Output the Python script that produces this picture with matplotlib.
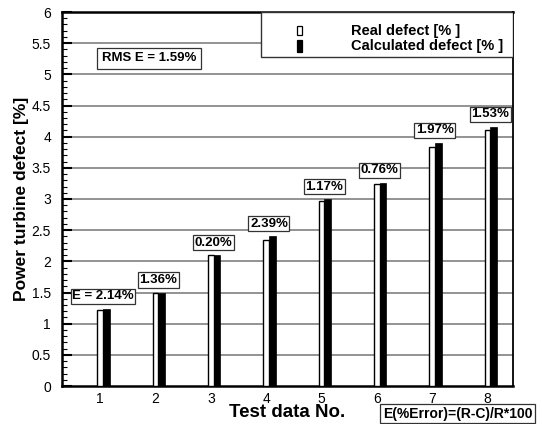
import matplotlib
matplotlib.use("Agg")
import matplotlib.pyplot as plt
from matplotlib.patches import Rectangle
from matplotlib.ticker import MultipleLocator
import numpy as np

plt.rcParams['font.family'] = ['Liberation Sans', 'DejaVu Sans']

test_no = [1, 2, 3, 4, 5, 6, 7, 8]
real_defect = [1.22, 1.49, 2.10, 2.35, 2.97, 3.24, 3.83, 4.10]
calc_defect = [1.24, 1.50, 2.10, 2.40, 3.00, 3.26, 3.90, 4.16]
error_labels = ["E = 2.14%", "1.36%", "0.20%", "2.39%", "1.17%", "0.76%", "1.97%", "1.53%"]
y_ticks = [0, 0.5, 1, 1.5, 2, 2.5, 3, 3.5, 4, 4.5, 5, 5.5, 6]
y_tick_labels = ["0", "0.5", "1", "1.5", "2", "2.5", "3", "3.5", "4", "4.5", "5", "5.5", "6"]

fig = plt.figure(figsize=(5.42, 4.24), dpi=100)
ax = fig.add_axes([62/542, 38/424, 451/542, 374/424])

x = np.array(test_no, dtype=float)
ax.bar(x, real_defect, width=0.1, color='white', edgecolor='black', linewidth=1.0, zorder=3)
ax.bar(x + 0.11, calc_defect, width=0.12, color='black', edgecolor='black', linewidth=0.5, zorder=3)

ax.set_xlim(0.31, 8.46)
ax.set_ylim(0, 6)
ax.set_xticks(test_no)
ax.set_xticklabels([str(t) for t in test_no])
ax.set_yticks(y_ticks)
ax.set_yticklabels(y_tick_labels)
ax.yaxis.set_minor_locator(MultipleLocator(0.1))
ax.tick_params(axis='x', length=0, labelsize=10, pad=4)
ax.tick_params(axis='y', which='major', direction='in', length=7, width=1.5, labelsize=10, pad=8)
ax.tick_params(axis='y', which='minor', direction='in', length=3.5, width=0.8)
for yv in y_ticks[1:-1]:
    ax.axhline(yv, color='#8a8a8a', linewidth=1.3, zorder=1)

for s in ['left', 'top', 'bottom']:
    ax.spines[s].set_linewidth(1.8)
ax.spines['right'].set_linewidth(1.3)

ax.set_xlabel("Test data No.", fontsize=13.5, fontweight='bold', labelpad=-1)
ax.set_ylabel("Power turbine defect [%]", fontsize=12.5, fontweight='bold', labelpad=2)

for xi, ci, lab in zip(x, calc_defect, error_labels):
    ax.annotate(lab, (xi + 0.05, ci), xytext=(0, 9), textcoords='offset points',
                ha='center', va='center', fontsize=9.5, fontweight='bold', zorder=5,
                bbox=dict(boxstyle='square,pad=0.12', facecolor='white', edgecolor='#333333', linewidth=0.9))

# RMS box
ax.text(0.193, 0.876, "RMS E = 1.59%", transform=ax.transAxes, ha='center', va='center',
        fontsize=9.5, fontweight='bold', zorder=5,
        bbox=dict(boxstyle='square,pad=0.35', facecolor='white', edgecolor='#333333', linewidth=0.9))

# Legend box
ax.add_patch(Rectangle((0.4406, 0.8789), 1 - 0.4406, 1 - 0.8789, transform=ax.transAxes,
                       facecolor='white', edgecolor='#333333', linewidth=1.0, zorder=6))
ax.add_patch(Rectangle((0.5266 - 0.0045, 0.9505 - 0.013), 0.009, 0.026, transform=ax.transAxes,
                       facecolor='white', edgecolor='black', linewidth=0.9, zorder=7))
ax.add_patch(Rectangle((0.5266 - 0.0045, 0.909 - 0.017), 0.009, 0.034, transform=ax.transAxes,
                       facecolor='black', edgecolor='black', linewidth=0.9, zorder=7))
ax.text(0.6401, 0.9505, "Real defect [% ]", transform=ax.transAxes, ha='left', va='center',
        fontsize=10.5, fontweight='bold', zorder=8)
ax.text(0.6401, 0.909, "Calculated defect [% ]", transform=ax.transAxes, ha='left', va='center',
        fontsize=10.5, fontweight='bold', zorder=8)

# Footnote box
fig.text(0.844, 0.024, "E(%Error)=(R-C)/R*100", ha='center', va='center',
         fontsize=10, fontweight='bold',
         bbox=dict(boxstyle='square,pad=0.18', facecolor='white', edgecolor='#333333', linewidth=0.9))

fig.savefig("out.png", dpi=100)
